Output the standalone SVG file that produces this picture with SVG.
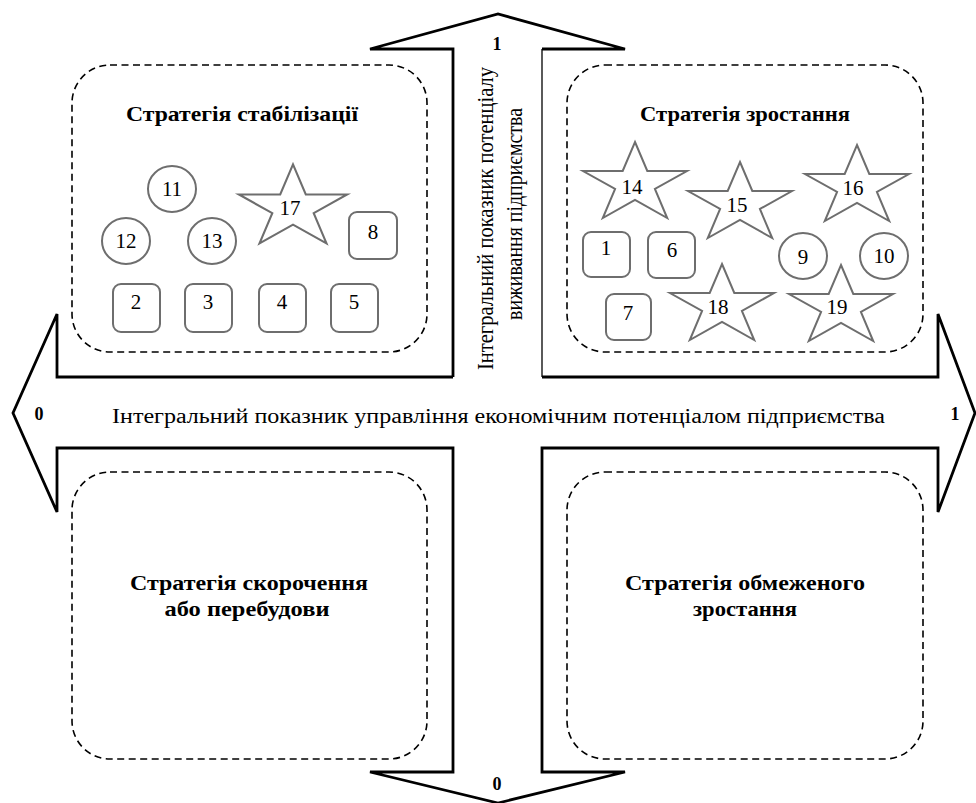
<svg xmlns="http://www.w3.org/2000/svg" xmlns:xlink="http://www.w3.org/1999/xlink" width="976" height="803" viewBox="0 0 976 803">
<style>
  .axis{fill:none;stroke:#000;stroke-width:2.8;stroke-linejoin:miter}
  .zone{fill:none;stroke:#000;stroke-width:1.6;stroke-dasharray:7 4.5}
  .shp{fill:#fff;stroke:#6e6e6e;stroke-width:2}
  .num{font-family:"Liberation Serif","Times New Roman",serif;font-size:21px;fill:#000;text-anchor:middle}
  .title{font-family:"Liberation Serif","Times New Roman",serif;font-size:21px;font-weight:bold;fill:#000;text-anchor:middle}
  .lab{font-family:"Liberation Serif","Times New Roman",serif;font-size:20px;fill:#000}
  .val{font-family:"Liberation Serif","Times New Roman",serif;font-size:18px;font-weight:bold;fill:#000;text-anchor:middle}
</style>
<defs>
  <path id="star" d="M0,-42 L12.3,-13 L52,-13 L19.9,5 L32.2,34 L0,16 L-32.2,34 L-19.9,5 L-52,-13 L-12.3,-13 Z"/>
</defs>
<rect width="976" height="803" fill="#fff"/>

<g id="connectors">
  <path class="axis" d="M453,377 L453,49 L370,49 L498,14 L625,49 L542,49 M542,377 L938,377 L938,314 L975,413 L938,512 L938,448 L542,448 L542,772 L625,772 L498,803 L370,772 L453,772 L453,448 L57,448 L57,512 L13,413 L57,314 L57,377 L453,377"/>
  <path d="M542,49 L542,377" fill="none" stroke="#000" stroke-width="1.3"/>
  <text class="lab" x="112" y="423" textLength="773" lengthAdjust="spacingAndGlyphs">Інтегральний показник управління економічним потенціалом підприємства</text>
  <text class="lab" style="font-size:23px" text-anchor="middle" transform="translate(493,218.5) rotate(-90)" textLength="303" lengthAdjust="spacingAndGlyphs">Інтегральний показник потенціалу</text>
  <text class="lab" style="font-size:23px" text-anchor="middle" transform="translate(522,214) rotate(-90)" textLength="212" lengthAdjust="spacingAndGlyphs">виживання підприємства</text>
  <text class="val" x="39" y="420">0</text>
  <text class="val" x="955" y="420">1</text>
  <text class="val" x="497" y="50">1</text>
  <text class="val" x="497" y="790">0</text>
</g>

<g id="zone-stabilization">
  <rect class="zone" x="72" y="65" width="355" height="287" rx="38"/>
  <text class="title" x="242" y="121" textLength="232" lengthAdjust="spacingAndGlyphs">Стратегія стабілізації</text>
</g>
<g id="zone-growth">
  <rect class="zone" x="567" y="65" width="356" height="287" rx="38"/>
  <text class="title" x="745" y="121" textLength="210" lengthAdjust="spacingAndGlyphs">Стратегія зростання</text>
</g>
<g id="zone-reduction">
  <rect class="zone" x="72" y="472" width="355" height="287" rx="38"/>
  <text class="title" x="249" y="590" textLength="238" lengthAdjust="spacingAndGlyphs">Стратегія скорочення</text>
  <text class="title" x="247" y="616" textLength="165" lengthAdjust="spacingAndGlyphs">або перебудови</text>
</g>
<g id="zone-limited">
  <rect class="zone" x="567" y="472" width="356" height="287" rx="38"/>
  <text class="title" x="745" y="590" textLength="240" lengthAdjust="spacingAndGlyphs">Стратегія обмеженого</text>
  <text class="title" x="745" y="616" textLength="104" lengthAdjust="spacingAndGlyphs">зростання</text>
</g>

<g id="n11"><ellipse class="shp" cx="172" cy="189" rx="24" ry="23"/><text class="num" x="172" y="196">11</text></g>
<g id="n12"><ellipse class="shp" cx="126" cy="241" rx="24" ry="23"/><text class="num" x="126" y="248">12</text></g>
<g id="n13"><ellipse class="shp" cx="212" cy="241" rx="24" ry="23"/><text class="num" x="212" y="248">13</text></g>
<g id="n17"><use href="#star" class="shp" transform="translate(293,208) scale(1.04)"/><text class="num" x="290" y="215">17</text></g>
<g id="n8"><rect class="shp" x="349" y="212" width="48" height="47" rx="8"/><text class="num" x="373" y="239">8</text></g>
<g id="n2"><rect class="shp" x="113" y="284" width="47" height="48" rx="8"/><text class="num" x="136" y="309">2</text></g>
<g id="n3"><rect class="shp" x="185" y="284" width="47" height="48" rx="8"/><text class="num" x="208" y="309">3</text></g>
<g id="n4"><rect class="shp" x="259" y="284" width="47" height="48" rx="8"/><text class="num" x="282" y="309">4</text></g>
<g id="n5"><rect class="shp" x="331" y="284" width="47" height="48" rx="8"/><text class="num" x="354" y="309">5</text></g>

<g id="n14"><use href="#star" class="shp" x="635" y="184"/><text class="num" x="632" y="194">14</text></g>
<g id="n15"><use href="#star" class="shp" x="740" y="204"/><text class="num" x="737" y="212">15</text></g>
<g id="n16"><use href="#star" class="shp" x="857" y="187"/><text class="num" x="853" y="195">16</text></g>
<g id="n1"><rect class="shp" x="583" y="232" width="47" height="45" rx="8"/><text class="num" x="606" y="255">1</text></g>
<g id="n6"><rect class="shp" x="648" y="232" width="47" height="46" rx="8"/><text class="num" x="672" y="257">6</text></g>
<g id="n9"><ellipse class="shp" cx="803" cy="256" rx="24" ry="23"/><text class="num" x="803" y="264">9</text></g>
<g id="n10"><ellipse class="shp" cx="884" cy="256" rx="24" ry="23"/><text class="num" x="884" y="263">10</text></g>
<g id="n7"><rect class="shp" x="606" y="294" width="45" height="46" rx="8"/><text class="num" x="628" y="320">7</text></g>
<g id="n18"><use href="#star" class="shp" x="722" y="306"/><text class="num" x="718" y="314">18</text></g>
<g id="n19"><use href="#star" class="shp" x="841" y="307"/><text class="num" x="837" y="314">19</text></g>
</svg>
